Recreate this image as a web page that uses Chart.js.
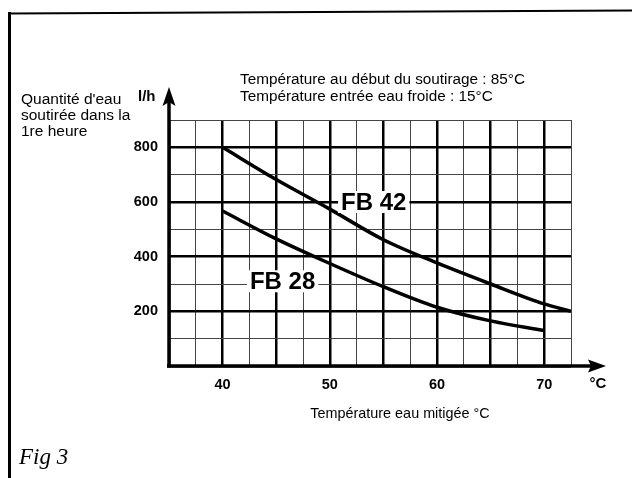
<!DOCTYPE html>
<html>
<head>
<meta charset="utf-8">
<script src="https://cdn.jsdelivr.net/npm/chart.js@4"></script>
<style>
html,body{margin:0;padding:0;background:#fff;}
#wrap{width:640px;height:478px;position:relative;}
</style>
</head>
<body>
<div id="wrap"><canvas id="c" width="640" height="478"></canvas></div>
<script>
// ---- data ----
const seriesNames = ['FB 42', 'FB 28'];
const tempsFB42 = [40, 45, 50, 55, 60, 65, 70, 72.5];
const valuesFB42 = [800, 682, 574, 462, 377, 300, 227, 200];
const tempsFB28 = [40, 45, 50, 55, 60, 65, 70];
const valuesFB28 = [567, 465, 375, 290, 215, 165, 130];
const xTickLabels = [40, 50, 60, 70];
const yTickLabels = [200, 400, 600, 800];
const titleLines = ['Température au début du soutirage : 85°C', 'Température entrée eau froide : 15°C'];
const yAxisTitle = ['Quantité d\'eau', 'soutirée dans la', '1re heure'];
const yUnit = 'l/h';
const xUnit = '°C';
const xAxisTitle = 'Température eau mitigée °C';
const figLabel = 'Fig 3';

const toPts = (xs, ys) => xs.map((x, i) => ({x: x, y: ys[i]}));

const FONT = '"Liberation Sans", Arial, sans-serif';

const deco = {
  id: 'deco',
  afterDraw(chart) {
    const ctx = chart.ctx;
    const xs = chart.scales.x, ys = chart.scales.y;
    const L = chart.chartArea.left, B = chart.chartArea.bottom;
    ctx.save();
    ctx.strokeStyle = '#000';
    ctx.fillStyle = '#000';
    // frame
    ctx.lineWidth = 3;
    ctx.beginPath(); ctx.moveTo(9.5, 12); ctx.lineTo(9.5, 478); ctx.stroke();
    ctx.lineWidth = 2;
    ctx.beginPath(); ctx.moveTo(8, 13.5); ctx.lineTo(632, 10.5); ctx.stroke();
    // x axis with arrow
    ctx.lineWidth = 3.5;
    ctx.beginPath(); ctx.moveTo(L - 2, B); ctx.lineTo(592, B); ctx.stroke();
    ctx.beginPath(); ctx.moveTo(606, B); ctx.lineTo(588, B - 6.5); ctx.lineTo(591, B); ctx.lineTo(588, B + 6.5); ctx.closePath(); ctx.fill();
    // y axis with arrow
    ctx.beginPath(); ctx.moveTo(L, B + 1.5); ctx.lineTo(L, 100); ctx.stroke();
    ctx.beginPath(); ctx.moveTo(L, 87); ctx.lineTo(L - 6.5, 106); ctx.lineTo(L, 102); ctx.lineTo(L + 6.5, 106); ctx.closePath(); ctx.fill();

    // titles
    ctx.textBaseline = 'middle';
    ctx.textAlign = 'left';
    ctx.font = '15.3px ' + FONT;
    ctx.fillText(titleLines[0], 240, 80);
    ctx.fillText(titleLines[1], 240, 97);
    ctx.font = '15.5px ' + FONT;
    ctx.fillText(yAxisTitle[0], 21, 100);
    ctx.fillText(yAxisTitle[1], 21, 116);
    ctx.fillText(yAxisTitle[2], 21, 132);
    ctx.font = 'bold 15px ' + FONT;
    ctx.fillText(yUnit, 138, 97);
    ctx.textAlign = 'center';
    ctx.fillText(xUnit, 598, 384);
    ctx.font = '14.4px ' + FONT;
    ctx.fillText(xAxisTitle, 400, 414);
    ctx.font = 'italic 23px "Liberation Serif", "Times New Roman", serif';
    ctx.textAlign = 'left';
    ctx.textBaseline = 'alphabetic';
    ctx.fillText(figLabel, 19, 464);

    // series labels
    const labelPos = [[54.1, 600], [45.6, 310]];
    ctx.font = 'bold 24px ' + FONT;
    ctx.textAlign = 'center';
    ctx.textBaseline = 'middle';
    seriesNames.forEach((name, i) => {
      const px = xs.getPixelForValue(labelPos[i][0]);
      const py = ys.getPixelForValue(labelPos[i][1]);
      const w = ctx.measureText(name).width;
      ctx.fillStyle = '#fff';
      ctx.fillRect(px - w / 2 - 3, py - 11, w + 6, 22);
      ctx.fillStyle = '#000';
      ctx.fillText(name, px, py + 1);
    });
    ctx.restore();
  }
};

new Chart(document.getElementById('c'), {
  type: 'line',
  data: {
    datasets: [
      {label: seriesNames[0], data: toPts(tempsFB42, valuesFB42), borderColor: '#000', borderWidth: 3.5, pointRadius: 0, cubicInterpolationMode: 'monotone', fill: false},
      {label: seriesNames[1], data: toPts(tempsFB28, valuesFB28), borderColor: '#000', borderWidth: 3.5, pointRadius: 0, cubicInterpolationMode: 'monotone', fill: false}
    ]
  },
  options: {
    responsive: false,
    animation: false,
    devicePixelRatio: 1,
    layout: {padding: {left: 0, top: 120, right: 69, bottom: 0}},
    plugins: {legend: {display: false}, tooltip: {enabled: false}, title: {display: false}},
    scales: {
      x: {
        type: 'linear', min: 35, max: 72.5,
        afterFit: s => { s.height = 112; },
        border: {display: false},
        grid: {
          drawTicks: false,
          color: c => (c.tick && c.tick.value % 5 === 0) ? '#000' : '#444',
          lineWidth: c => (c.tick && c.tick.value % 5 === 0) ? 2.5 : 1
        },
        ticks: {
          stepSize: 2.5, autoSkip: false, maxRotation: 0, padding: 10,
          color: '#000', font: {family: FONT, size: 14.5, weight: 'bold'},
          callback: v => xTickLabels.includes(v) ? String(v) : ''
        }
      },
      y: {
        type: 'linear', min: 0, max: 900,
        afterFit: s => { s.width = 169; },
        border: {display: false},
        grid: {
          drawTicks: false,
          color: c => (c.tick && c.tick.value % 200 === 0) ? '#000' : '#444',
          lineWidth: c => (c.tick && c.tick.value % 200 === 0) ? 2.5 : 1
        },
        ticks: {
          stepSize: 100, autoSkip: false, padding: 11,
          color: '#000', font: {family: FONT, size: 14.5, weight: 'bold'},
          callback: v => yTickLabels.includes(v) ? String(v) : ''
        }
      }
    }
  },
  plugins: [deco]
});
</script>
</body>
</html>
